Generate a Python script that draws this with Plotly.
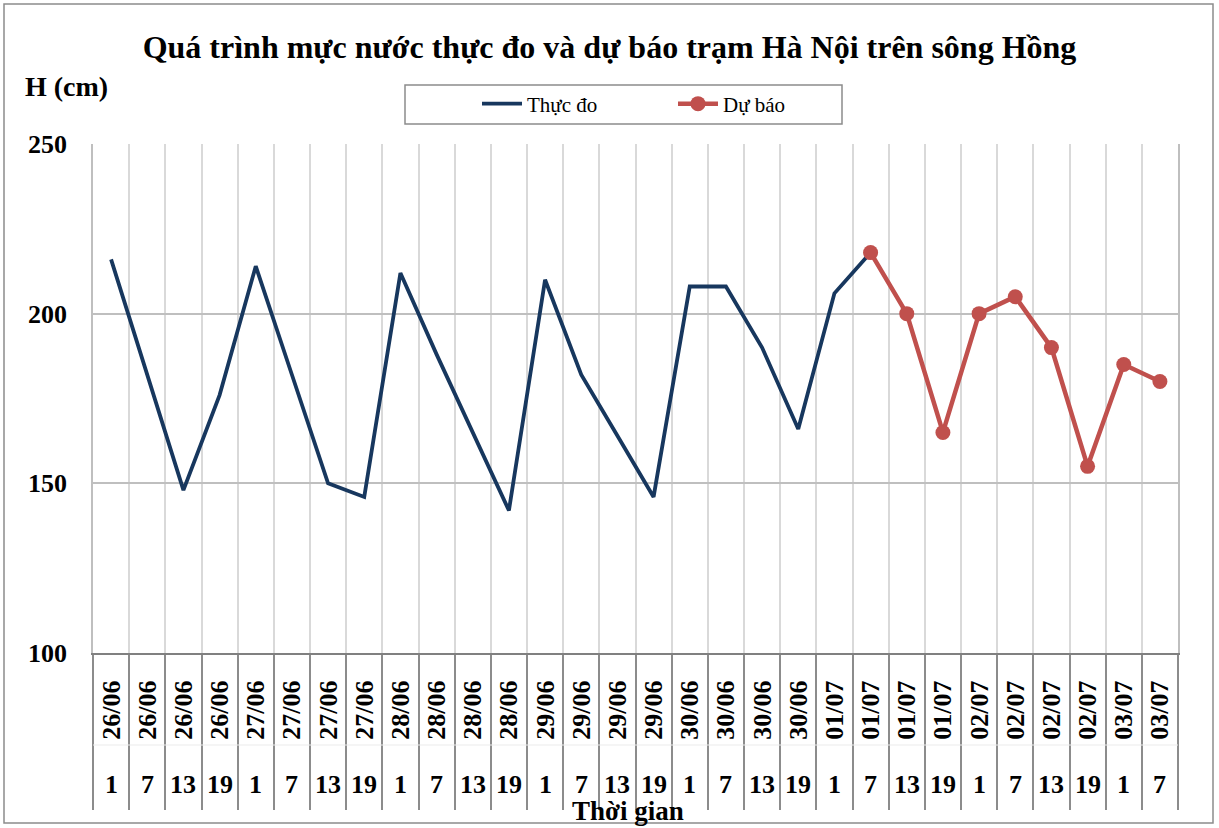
import numpy as np
import plotly.graph_objects as go

dates = ["26/06"] * 4 + ["27/06"] * 4 + ["28/06"] * 4 + ["29/06"] * 4 + \
        ["30/06"] * 4 + ["01/07"] * 4 + ["02/07"] * 4 + ["03/07"] * 2
hours = ["1", "7", "13", "19"] * 7 + ["1", "7"]

observed = [216, 182, 148, 176, 214, 182, 150, 146, 212, 188, 165, 142,
            210, 182, 164, 146, 208, 208, 190, 166, 206, 218]
forecast_start = 21
forecast = [218, 200, 165, 200, 205, 190, 155, 185, 180]

title_text = "Quá trình mực nước thực đo và dự báo trạm Hà Nội trên sông Hồng"
y_label = "H (cm)"
x_label = "Thời gian"
y_ticks = [100, 150, 200, 250]

FONT = "Liberation Serif, Times New Roman, serif"

n = len(dates)
xi = list(range(n))
obs_x = xi[:len(observed)]
fc_x = xi[forecast_start:forecast_start + len(forecast)]

# layout geometry (pixels)
W, H = 1219, 828
L, R, T, B = 93, 1178, 144, 653
pw, ph = R - L, B - T


def px_x(px):
    return (px - L) / pw


def px_y(py):
    return (B - py) / ph


fig = go.Figure()
fig.add_trace(go.Scatter(
    x=obs_x, y=observed, mode="lines", name="Thực đo",
    line=dict(color="#17375E", width=3.8),
))
fig.add_trace(go.Scatter(
    x=fc_x, y=forecast, mode="lines+markers", name="Dự báo",
    line=dict(color="#C0504D", width=4.5),
    marker=dict(color="#C0504D", size=15),
))

boundaries = list(np.arange(-0.5, n, 1.0))

fig.update_xaxes(
    range=[-0.5, n - 0.5],
    tickmode="array", tickvals=xi, ticktext=dates, tickangle=-90,
    tickfont=dict(family=FONT, size=26, color="black", weight="bold"),
    ticks="", showgrid=False, zeroline=False,
    showline=True, linecolor="#808080", linewidth=2,
    ticklabelstandoff=15,
    minor=dict(tickmode="array", tickvals=boundaries, showgrid=True,
               gridcolor="#D9D9D9", gridwidth=1.5,
               ticks="outside", ticklen=155, tickcolor="#8C8C8C", tickwidth=1.5),
)
fig.update_yaxes(
    range=[100, 250], tickmode="array", tickvals=y_ticks,
    tickfont=dict(family=FONT, size=26, color="black", weight="bold"),
    showgrid=True, gridcolor="#BFBFBF", gridwidth=1.5, zeroline=False,
    showline=True, linecolor="#BFBFBF", linewidth=1.5, mirror=True,
    ticks="", ticklabelstandoff=19,
)

annotations = []
for i, h in enumerate(hours):
    annotations.append(dict(
        x=i, y=px_y(784), xref="x", yref="paper", text=h, showarrow=False,
        xanchor="center", yanchor="middle",
        font=dict(family=FONT, size=26, color="black", weight="bold"),
    ))
annotations.append(dict(
    x=px_x(628), y=px_y(811), xref="paper", yref="paper", text=x_label,
    showarrow=False, xanchor="center", yanchor="middle",
    font=dict(family=FONT, size=27, color="black", weight="bold"),
))
annotations.append(dict(
    x=px_x(23), y=px_y(86), xref="paper", yref="paper", text=y_label,
    showarrow=False, xanchor="left", yanchor="middle",
    font=dict(family=FONT, size=28, color="black", weight="bold"),
))

shapes = [
    # outer chart border
    dict(type="rect", xref="paper", yref="paper",
         x0=px_x(4), x1=px_x(1213), y0=px_y(823), y1=px_y(4),
         line=dict(color="#8C8C8C", width=1.5), layer="below"),
    # legend box
    dict(type="rect", xref="paper", yref="paper",
         x0=px_x(405), x1=px_x(842), y0=px_y(124), y1=px_y(85),
         line=dict(color="#8C8C8C", width=1.5)),
    # faint separator between date and hour rows
    dict(type="line", xref="paper", yref="paper",
         x0=0, x1=1, y0=px_y(745), y1=px_y(745),
         line=dict(color="#EBEBEB", width=1)),
]

fig.update_layout(
    width=W, height=H,
    margin=dict(l=L, r=W - R, t=T, b=H - B, pad=0),
    paper_bgcolor="white", plot_bgcolor="white",
    title=dict(text=title_text, x=0.5, xanchor="center", xref="container",
               y=1 - 47 / H, yanchor="middle", yref="container",
               font=dict(family=FONT, size=32, color="black", weight="bold")),
    showlegend=True,
    legend=dict(orientation="h", x=px_x(477), xanchor="left",
                y=px_y(104), yanchor="middle",
                font=dict(family=FONT, size=21, color="black"),
                bgcolor="rgba(0,0,0,0)", borderwidth=0,
                entrywidth=141, entrywidthmode="pixels", itemwidth=40),
    annotations=annotations,
    shapes=shapes,
)

fig.write_html("out.html", config={"displayModeBar": False},
               post_script="document.body.style.margin='0';")
